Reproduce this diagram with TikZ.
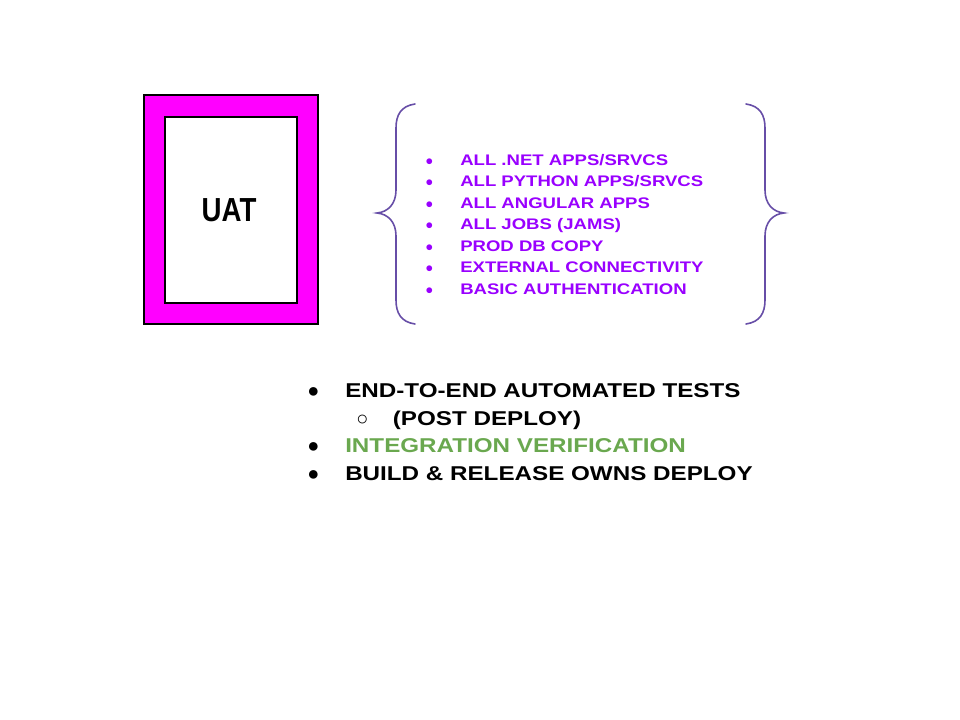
\documentclass[tikz,border=0pt]{standalone}
\usepackage{fontspec}
\setmainfont{Liberation Sans}
\newfontfamily\widefont[FakeStretch=1.21]{Liberation Sans}
\newfontfamily\narrowfont[FakeStretch=0.83]{Liberation Sans}
\definecolor{frame}{HTML}{FF00FF}
\definecolor{itemviolet}{HTML}{9900FF}
\definecolor{bracecol}{HTML}{674EA7}
\definecolor{okgreen}{HTML}{6AA84F}
\tikzset{
  envbox/.style={draw=black, line width=1.2pt},
  brace/.style={draw=bracecol, line width=1.2pt, line cap=round},
  svcitem/.style={anchor=base west, inner sep=0pt, text=itemviolet,
    font=\widefont\bfseries\fontsize{11.5pt}{14pt}\selectfont},
  noteitem/.style={anchor=base west, inner sep=0pt,
    font=\widefont\bfseries\fontsize{15pt}{18pt}\selectfont},
}
\newcommand{\svcline}[1]{\makebox[26.25pt][l]{\normalfont\mdseries\fontsize{10pt}{12pt}\selectfont ●}#1}
\newcommand{\noteline}[1]{\makebox[28.5pt][l]{\normalfont\mdseries ●}#1}
\begin{document}
\begin{tikzpicture}[x=0.75pt, y=-0.75pt]
  \useasboundingbox (0,0) rectangle (960,720);

  % UAT environment box
  \filldraw[envbox, fill=frame] (144,95) rectangle (318,324);
  \filldraw[envbox, fill=white] (165,117) rectangle (297,303);
  \node[font=\narrowfont\bfseries\fontsize{25pt}{30pt}\selectfont] (uat) at (229,210) {UAT};

  % curly braces around the service list
  \draw[brace] (415,104) .. controls (401,106) and (396,115) .. (396,128)
    -- (396,190) .. controls (396,204) and (388,212) .. (377,213)
    .. controls (388,214) and (396,222) .. (396,236)
    -- (396,300) .. controls (396,313) and (401,322) .. (415,324);
  \draw[brace] (746,104) .. controls (760,106) and (765,115) .. (765,128)
    -- (765,190) .. controls (765,204) and (773,212) .. (784,213)
    .. controls (773,214) and (765,222) .. (765,236)
    -- (765,300) .. controls (765,313) and (760,322) .. (746,324);

  % deployed components
  \node[svcitem] (s1) at (425,165.5) {\svcline{ALL .NET APPS/SRVCS}};
  \node[svcitem] (s2) at (425,187) {\svcline{ALL PYTHON APPS/SRVCS}};
  \node[svcitem] (s3) at (425,208.5) {\svcline{ALL ANGULAR APPS}};
  \node[svcitem] (s4) at (425,230) {\svcline{ALL JOBS (JAMS)}};
  \node[svcitem] (s5) at (425,251.5) {\svcline{PROD DB COPY}};
  \node[svcitem] (s6) at (425,273) {\svcline{EXTERNAL CONNECTIVITY}};
  \node[svcitem] (s7) at (425,294.5) {\svcline{BASIC AUTHENTICATION}};

  % notes
  \node[noteitem] (n1) at (307,397.5) {\noteline{END-TO-END AUTOMATED TESTS}};
  \node[noteitem] (n2) at (356,425) {\makebox[27.5pt][l]{\normalfont\mdseries ○}(POST DEPLOY)};
  \node[noteitem] (n3) at (307,452.5) {\noteline{\textcolor{okgreen}{INTEGRATION VERIFICATION}}};
  \node[noteitem] (n4) at (307,480) {\noteline{BUILD \& RELEASE OWNS DEPLOY}};
\end{tikzpicture}
\end{document}
